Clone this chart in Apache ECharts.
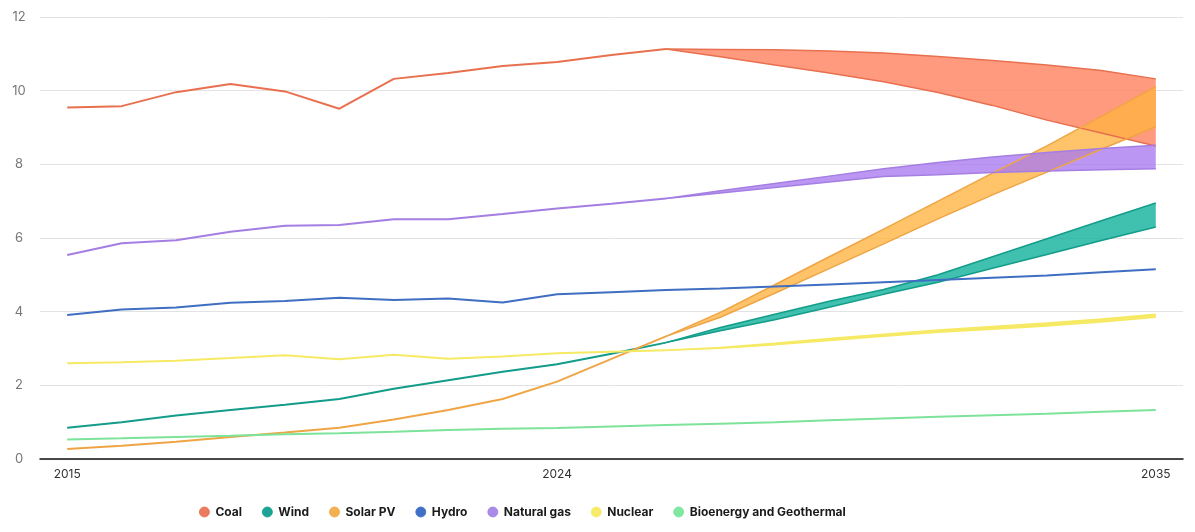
<!DOCTYPE html>
<html>
<head>
<meta charset="utf-8">
<script src="https://cdn.jsdelivr.net/npm/echarts@6/dist/echarts.min.js"></script>
<style>
html,body{margin:0;padding:0;background:#fff;}
#chart{width:1195px;height:532px;}
</style>
</head>
<body>
<div id="chart"></div>
<script>
// Categories (years)
const years = ['2015','2016','2017','2018','2019','2020','2021','2022','2023','2024','2025',
               '2026','2027','2028','2029','2030','2031','2032','2033','2034','2035'];
const xTickLabels = ['2015','2024','2035'];
const yTickLabels = [0, 2, 4, 6, 8, 10, 12];

// Historic values 2015–2026
const coalHist    = [9.54, 9.58, 9.96, 10.18, 9.98, 9.51, 10.32, 10.48, 10.67, 10.78, 10.97, 11.13];
const gasHist     = [5.54, 5.86, 5.94, 6.17, 6.33, 6.35, 6.51, 6.51, 6.65, 6.80, 6.93, 7.07];
const solarHist   = [0.27, 0.36, 0.47, 0.60, 0.72, 0.85, 1.07, 1.33, 1.63, 2.10, 2.72, 3.33];
const windHist    = [0.85, 1.00, 1.18, 1.33, 1.47, 1.63, 1.91, 2.14, 2.37, 2.57, 2.86, 3.16];
const nuclearHist = [2.60, 2.63, 2.67, 2.74, 2.82, 2.71, 2.83, 2.72, 2.78, 2.87, 2.91, 2.95];

// Projection ranges 2026–2035
const coalHigh    = [11.13, 11.12, 11.11, 11.08, 11.02, 10.93, 10.82, 10.70, 10.55, 10.32];
const coalLow     = [11.13, 10.92, 10.70, 10.48, 10.24, 9.95, 9.60, 9.20, 8.85, 8.50];
const gasHigh     = [7.07, 7.28, 7.48, 7.68, 7.88, 8.05, 8.20, 8.32, 8.43, 8.52];
const gasLow      = [7.07, 7.22, 7.37, 7.52, 7.67, 7.72, 7.78, 7.82, 7.85, 7.88];
const solarHigh   = [3.33, 3.98, 4.73, 5.49, 6.24, 7.00, 7.76, 8.50, 9.30, 10.11];
const solarLow    = [3.33, 3.85, 4.50, 5.17, 5.84, 6.52, 7.17, 7.79, 8.41, 9.02];
const windHigh    = [3.16, 3.57, 3.93, 4.28, 4.60, 5.00, 5.49, 5.98, 6.47, 6.95];
const windLow     = [3.16, 3.48, 3.78, 4.12, 4.47, 4.80, 5.18, 5.55, 5.93, 6.30];
const nuclearHigh = [2.95, 3.03, 3.14, 3.27, 3.39, 3.50, 3.60, 3.69, 3.80, 3.93];
const nuclearLow  = [2.95, 3.01, 3.10, 3.22, 3.33, 3.44, 3.52, 3.61, 3.72, 3.85];

// Full-period single lines 2015–2035
const hydro = [3.91, 4.06, 4.11, 4.24, 4.29, 4.38, 4.32, 4.36, 4.25, 4.47, 4.53,
               4.59, 4.63, 4.68, 4.74, 4.80, 4.86, 4.92, 4.98, 5.07, 5.15];
const bio   = [0.53, 0.56, 0.60, 0.63, 0.67, 0.70, 0.74, 0.79, 0.82, 0.84, 0.88,
               0.92, 0.96, 1.00, 1.05, 1.10, 1.15, 1.19, 1.23, 1.28, 1.33];

const C = {
  coal:   {line:'#E8704F', fill:'rgba(255,132,98,0.82)', icon:'#EC7A5E'},
  wind:   {line:'#139C8A', fill:'rgba(22,178,158,0.82)', icon:'#1BA394'},
  solar:  {line:'#EFA545', fill:'rgba(255,178,64,0.78)', icon:'#F2B04F'},
  hydro:  {line:'#3F6EC2', icon:'#3F6FC6'},
  gas:    {line:'#A47EE2', fill:'rgba(168,122,240,0.78)', icon:'#A98AE6'},
  nuclear:{line:'#F6E964', fill:'rgba(246,233,100,1)', icon:'#F7EC6A'},
  bio:    {line:'#7DE39A', icon:'#7EE8A0'}
};

const projStart = 11;       // index of 2026
function histData(arr){ return years.map((y,i)=> i < arr.length ? arr[i] : null); }
function projData(arr){ return years.map((y,i)=> i >= projStart ? arr[i-projStart] : null); }
function diffData(hi, lo){ return years.map((y,i)=> i >= projStart ? +(hi[i-projStart]-lo[i-projStart]).toFixed(3) : null); }

function lineSeries(name, data, color, width, z){
  return {name, type:'line', data, symbol:'none', showSymbol:false, silent:true,
    lineStyle:{color, width: width}, itemStyle:{color}, z: z||2, emphasis:{disabled:true}};
}
function band(key, name, hi, lo, z){
  const c = C[key];
  return [
    {name: name+' low', type:'line', stack: key+'band', data: projData(lo), symbol:'none', silent:true,
     lineStyle:{color:c.line, width:1.5}, itemStyle:{color:c.line}, z:z, emphasis:{disabled:true}},
    {name: name+' high', type:'line', stack: key+'band', data: diffData(hi, lo), symbol:'none', silent:true,
     lineStyle:{color:c.line, width:1.5}, itemStyle:{color:c.line},
     areaStyle:{color:c.fill, opacity:1}, z:z, emphasis:{disabled:true}}
  ];
}

const series = [
  lineSeries('Coal', histData(coalHist), C.coal.line, 2, 3),
  lineSeries('Wind', histData(windHist), C.wind.line, 2, 3),
  lineSeries('Solar PV', histData(solarHist), C.solar.line, 2, 3),
  lineSeries('Hydro', hydro, C.hydro.line, 2, 3),
  lineSeries('Natural gas', histData(gasHist), C.gas.line, 2, 3),
  lineSeries('Nuclear', histData(nuclearHist), C.nuclear.line, 2, 3),
  lineSeries('Bioenergy and Geothermal', bio, C.bio.line, 2, 3),
  ...band('nuclear','Nuclear range', nuclearHigh, nuclearLow, 2),
  ...band('wind','Wind range', windHigh, windLow, 2),
  ...band('coal','Coal range', coalHigh, coalLow, 2),
  ...band('solar','Solar PV range', solarHigh, solarLow, 2),
  ...band('gas','Natural gas range', gasHigh, gasLow, 2)
];

const legendNames = [
  ['Coal','coal'],['Wind','wind'],['Solar PV','solar'],['Hydro','hydro'],
  ['Natural gas','gas'],['Nuclear','nuclear'],['Bioenergy and Geothermal','bio']
];

const chart = echarts.init(document.getElementById('chart'), null, {renderer:'canvas'});
chart.setOption({
  animation:false,
  backgroundColor:'#ffffff',
  textStyle:{fontFamily:'Inter, Roboto, "Noto Sans", sans-serif'},
  grid:{left:40, right:12, top:17, bottom:73, containLabel:false},
  xAxis:{
    type:'category', data: years, boundaryGap:true,
    axisLine:{show:true, lineStyle:{color:'#111', width:1.5}},
    axisTick:{show:false},
    splitLine:{show:false},
    axisLabel:{
      interval:(i, v)=> xTickLabels.indexOf(v) >= 0,
      color:'#333', fontSize:12, margin:9,
      fontFamily:'Inter, Roboto, sans-serif'
    }
  },
  yAxis:{
    type:'value', min:0, max:12, interval:2,
    axisLine:{show:false}, axisTick:{show:false},
    splitLine:{show:true, lineStyle:{color:'#e3e3e3', width:1}},
    axisLabel:{color:'#777', fontSize:13, margin:21, align:'center',
      fontFamily:'Inter, Roboto, sans-serif',
      formatter:(v)=> yTickLabels.indexOf(v) >= 0 ? String(v) : ''}
  },
  legend:{
    left:194, top:501, icon:'circle', itemWidth:10, itemHeight:10, itemGap:20,
    selectedMode:false,
    textStyle:{color:'#1a1a1a', fontSize:12, fontWeight:'bold', fontFamily:'Inter, Roboto, sans-serif', padding:[0,0,0,1]},
    data: legendNames.map(([n,k])=>({name:n, itemStyle:{color:C[k].icon, borderColor:C[k].line, borderWidth:0.8}}))
  },
  series
});
</script>
</body>
</html>
